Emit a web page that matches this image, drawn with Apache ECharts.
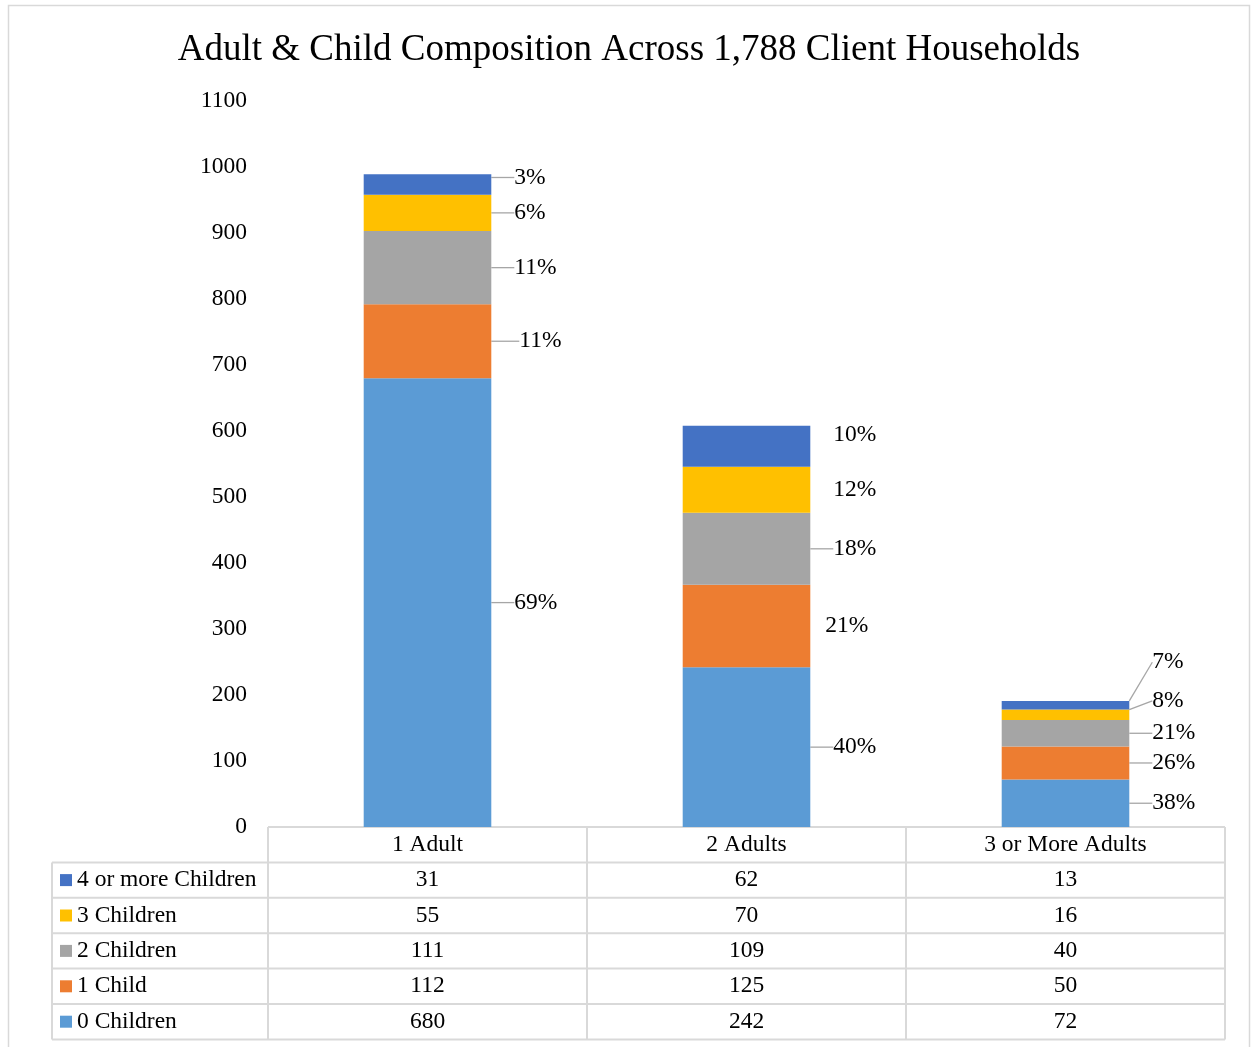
<!DOCTYPE html>
<html>
<head>
<meta charset="utf-8">
<script src="https://cdn.jsdelivr.net/npm/echarts@6/dist/echarts.min.js"></script>
<style>
  html, body { margin: 0; padding: 0; background: #fff; }
  #chart { width: 1258px; height: 1047px; }
</style>
</head>
<body>
<div id="chart"></div>
<script>
// Household counts by number of adults (columns) and children (series)
const categories = ['1 Adult', '2 Adults', '3 or More Adults'];
const seriesNames = ['0 Children', '1 Child', '2 Children', '3 Children', '4 or more Children'];
const zeroChildren = [680, 242, 72];
const oneChild = [112, 125, 50];
const twoChildren = [111, 109, 40];
const threeChildren = [55, 70, 16];
const fourPlusChildren = [31, 62, 13];
const yTicks = [0, 100, 200, 300, 400, 500, 600, 700, 800, 900, 1000, 1100];

const seriesValues = [zeroChildren, oneChild, twoChildren, threeChildren, fourPlusChildren];
const colors = ['#5B9BD5', '#ED7D31', '#A5A5A5', '#FFC000', '#4472C4'];
const FONT = '"Liberation Serif", "Times New Roman", serif';
const FS = 23.5;

const totals = categories.map((_, i) => seriesValues.reduce((s, arr) => s + arr[i], 0));

// label nudges [series][category] in px, keeping small segments readable
const labelShift = [
  [[0, 0], [0, 0], [0, 0]],
  [[5, 0], [-8, 0], [0, 0]],
  [[0, 0], [0, 0], [0, 0]],
  [[0, 0], [0, 0], [0, -14]],
  [[0, -7], [0, -11], [0, -43]]
];
// which labels carry a leader line
const showLeader = [
  [true, true, true],
  [true, false, true],
  [true, true, true],
  [true, false, true],
  [true, false, true]
];

// plot/table geometry
const W = 1258, H = 1047;
const gridLeft = 268, gridRight = 1225, gridTop = 101, gridBottom = 827;
const rowH = 35.4;
const tableLeft = 52;
const colW = (gridRight - gridLeft) / categories.length;

const chart = echarts.init(document.getElementById('chart'), null, { renderer: 'canvas' });

const series = seriesNames.map((name, si) => ({
  name: name,
  type: 'bar',
  stack: 'total',
  barWidth: '40%',
  data: seriesValues[si].map((v, ci) => ({
    value: v,
    labelLine: { show: showLeader[si][ci] }
  })),
  itemStyle: { color: colors[si] },
  label: {
    show: true,
    position: 'right',
    distance: 16,
    padding: [0, 0, 0, 7],
    fontFamily: FONT,
    fontSize: FS,
    color: '#000',
    formatter: p => Math.round(p.value / totals[p.dataIndex] * 100) + '%'
  },
  labelLine: {
    show: true,
    lineStyle: { color: '#A6A6A6', width: 1.3 }
  },
  labelLayout: p => {
    const s = labelShift[si][p.dataIndex];
    return { dx: s[0], dy: s[1] };
  }
}));

// data table drawn under the plot area
const graphics = [];
graphics.push({
  type: 'rect', shape: { x: 8.5, y: 5.5, width: 1241, height: H },
  style: { fill: 'none', stroke: '#D9D9D9', lineWidth: 1.5 }, silent: true
});
const lineStyle = { stroke: '#D9D9D9', lineWidth: 2 };
graphics.push({ type: 'line', shape: { x1: gridLeft, y1: gridBottom, x2: gridRight, y2: gridBottom }, style: lineStyle });
for (let r = 1; r <= seriesNames.length + 1; r++) {
  const y = gridBottom + r * rowH;
  graphics.push({ type: 'line', shape: { x1: tableLeft, y1: y, x2: gridRight, y2: y }, style: lineStyle });
}
graphics.push({ type: 'line', shape: { x1: tableLeft, y1: gridBottom + rowH, x2: tableLeft, y2: gridBottom + rowH * 6 }, style: lineStyle });
for (let c = 0; c <= categories.length; c++) {
  const x = gridLeft + c * colW;
  graphics.push({ type: 'line', shape: { x1: x, y1: gridBottom, x2: x, y2: gridBottom + rowH * 6 }, style: lineStyle });
}
// rows: top row is the top of the stack
const rowOrder = seriesNames.map((_, i) => seriesNames.length - 1 - i);
rowOrder.forEach((si, r) => {
  const cy = gridBottom + rowH * (r + 1) + rowH / 2;
  graphics.push({
    type: 'rect', shape: { x: 60, y: cy - 6, width: 12, height: 12 },
    style: { fill: colors[si] }
  });
  graphics.push({
    type: 'text', x: 77, y: cy,
    style: { text: seriesNames[si], font: FS + 'px ' + FONT, fill: '#000', textVerticalAlign: 'middle', textAlign: 'left' }
  });
  categories.forEach((_, ci) => {
    graphics.push({
      type: 'text', x: gridLeft + colW * (ci + 0.5), y: cy,
      style: { text: String(seriesValues[si][ci]), font: FS + 'px ' + FONT, fill: '#000', textAlign: 'center', textVerticalAlign: 'middle' }
    });
  });
});

chart.setOption({
  animation: false,
  title: {
    text: 'Adult & Child Composition Across 1,788 Client Households',
    left: 'center',
    top: 27,
    textStyle: { fontFamily: FONT, fontSize: 37, fontWeight: 'normal', color: '#000' }
  },
  grid: { left: gridLeft, right: W - gridRight, top: gridTop, bottom: H - gridBottom, containLabel: false },
  xAxis: {
    type: 'category',
    data: categories,
    axisLine: { show: false },
    axisTick: { show: false },
    axisLabel: { fontFamily: FONT, fontSize: FS, color: '#000', margin: 6 }
  },
  yAxis: {
    type: 'value',
    min: yTicks[0],
    max: yTicks[yTicks.length - 1],
    interval: 100,
    splitLine: { show: false },
    axisLine: { show: false },
    axisTick: { show: false },
    axisLabel: { fontFamily: FONT, fontSize: FS, color: '#000', margin: 21, formatter: v => String(v) }
  },
  series: series,
  graphic: graphics
});
</script>
</body>
</html>
